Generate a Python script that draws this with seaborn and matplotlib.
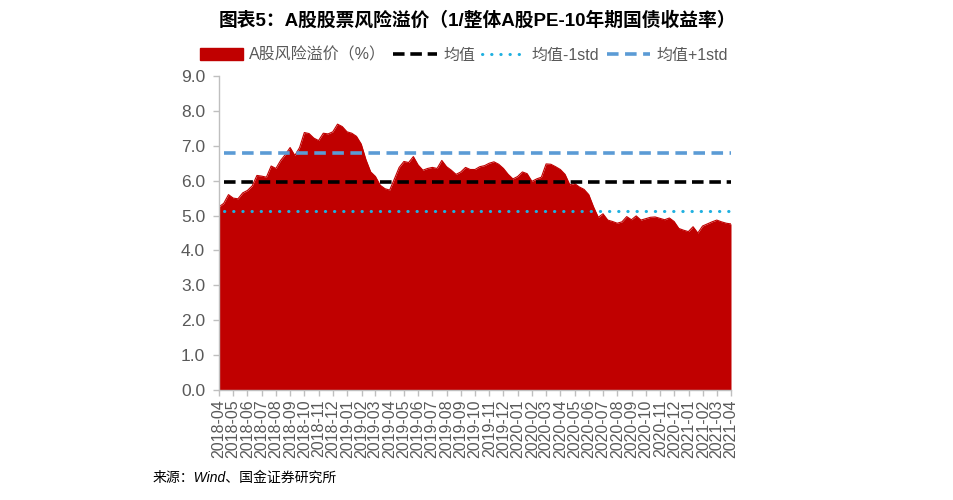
import numpy as np
import pandas as pd
import matplotlib
matplotlib.use("Agg")
import matplotlib.pyplot as plt
import matplotlib.dates as mdates
from matplotlib.patches import Patch
from matplotlib.lines import Line2D
import seaborn as sns

# ---------------- data ----------------
start_date = "2018-04-01"
end_date = "2021-04-01"
premium = [
    5.25, 5.35, 5.60, 5.50, 5.48, 5.65, 5.72, 5.85, 6.15, 6.13,
    6.10, 6.42, 6.35, 6.58, 6.75, 6.95, 6.72, 6.95, 7.38, 7.35,
    7.22, 7.15, 7.36, 7.34, 7.40, 7.62, 7.55, 7.40, 7.36, 7.27,
    7.05, 6.60, 6.25, 6.12, 5.87, 5.77, 5.73, 6.05, 6.38, 6.55,
    6.52, 6.69, 6.45, 6.30, 6.35, 6.38, 6.35, 6.58, 6.40, 6.30,
    6.18, 6.25, 6.38, 6.32, 6.32, 6.40, 6.43, 6.50, 6.54, 6.47,
    6.35, 6.18, 6.05, 6.12, 6.25, 6.20, 5.98, 6.05, 6.10, 6.48,
    6.47, 6.40, 6.32, 6.18, 5.88, 5.92, 5.82, 5.75, 5.60, 5.25,
    4.95, 5.05, 4.87, 4.83, 4.78, 4.82, 4.97, 4.88, 4.99, 4.87,
    4.91, 4.95, 4.96, 4.92, 4.88, 4.93, 4.83, 4.63, 4.58, 4.54,
    4.68, 4.50, 4.70, 4.76, 4.82, 4.87, 4.82, 4.78, 4.76,
]
mean_val = 5.95
minus_std = 5.13
plus_std = 6.80

title = "图表5：A股股票风险溢价（1/整体A股PE-10年期国债收益率）"
legend_labels = ["A股风险溢价（%）", "均值", "均值-1std", "均值+1std"]
source = "来源：Wind、国金证券研究所"

dates = pd.date_range(start_date, end_date, periods=len(premium))
df = pd.DataFrame({"date": dates, "premium": premium})
df["mean"] = mean_val
df["minus"] = minus_std
df["plus"] = plus_std

# ---------------- style ----------------
sns.set_theme(style="white")
plt.rcParams["font.family"] = ["Liberation Sans", "Noto Sans CJK SC", "DejaVu Sans"]
plt.rcParams["axes.unicode_minus"] = False

RED = "#C00000"
GRAY = "#595959"
SPINE = "#BFBFBF"
CYAN = "#1FB0E0"
BLUE = "#5B9BD5"

fig = plt.figure(figsize=(9.54, 5.0), dpi=100)
ax = fig.add_axes([219 / 954, 1 - 390 / 500, 512 / 954, 314 / 500])

ax.fill_between(df["date"], 0, df["premium"], color=RED, linewidth=0, zorder=1)
sns.lineplot(data=df, x="date", y="premium", ax=ax, color=RED, linewidth=0.8, zorder=2)

line_df = df.iloc[1:]
sns.lineplot(data=line_df, x="date", y="mean", ax=ax, color="black",
             linewidth=2.6, zorder=3).lines[-1].set_dashes([3.2, 1.6])
l2 = sns.lineplot(data=line_df, x="date", y="minus", ax=ax, color=CYAN,
                  linewidth=2.2, zorder=3).lines[-1]
l2.set_dashes([0.1, 2.9])
l2.set_dash_capstyle("round")
sns.lineplot(data=line_df, x="date", y="plus", ax=ax, color=BLUE,
             linewidth=2.6, zorder=3).lines[-1].set_dashes([3.2, 1.8])

ax.set_xlim(pd.Timestamp(start_date), pd.Timestamp(end_date))
ax.set_ylim(0, 9)
ax.set_yticks(np.arange(0, 9.01, 1.0))
ax.yaxis.set_major_formatter(matplotlib.ticker.FormatStrFormatter("%.1f"))
ax.xaxis.set_major_locator(mdates.MonthLocator())
ax.xaxis.set_major_formatter(mdates.DateFormatter("%Y-%m"))
ax.set_xlabel("")
ax.set_ylabel("")

for s in ["top", "right"]:
    ax.spines[s].set_visible(False)
for s in ["left", "bottom"]:
    ax.spines[s].set_color(SPINE)
    ax.spines[s].set_linewidth(1.0)
ax.tick_params(axis="y", which="major", direction="out", length=4, width=1,
               color=SPINE, labelcolor=GRAY, labelsize=12.5, pad=6, left=True)
ax.tick_params(axis="x", which="major", direction="out", length=4, width=1,
               color=SPINE, labelcolor=GRAY, labelsize=11.5, pad=3,
               labelrotation=90, bottom=True)
ax.grid(False)

fig.text(0.5, 1 - 20 / 500, title, ha="center", va="center",
         fontsize=13.5, fontweight="bold", color="black")

handles = [
    Patch(facecolor=RED, edgecolor=RED),
    Line2D([], [], color="black", linewidth=2.6, dashes=[3.2, 1.6]),
    Line2D([], [], color=CYAN, linewidth=2.2, dashes=[0.1, 2.9],
           dash_capstyle="round"),
    Line2D([], [], color=BLUE, linewidth=2.6, dashes=[3.2, 1.8]),
]
fig.legend(handles, legend_labels, loc="center", bbox_to_anchor=(0.486, 1 - 55 / 500),
           ncol=4, frameon=False, fontsize=11.5, labelcolor=GRAY,
           handlelength=2.7, handleheight=0.8, columnspacing=0.45, handletextpad=0.4)

fig.text(153 / 954, 1 - 478 / 500, source, ha="left", va="center",
         fontsize=10, style="italic", color="black")

fig.savefig("out.png", dpi=100)
